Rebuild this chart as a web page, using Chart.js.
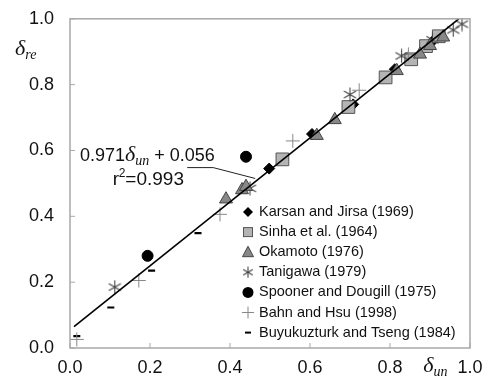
<!DOCTYPE html>
<html>
<head>
<meta charset="utf-8">
<script src="https://cdn.jsdelivr.net/npm/chart.js@4"></script>
<style>
  html, body { margin: 0; padding: 0; background: #fff; }
</style>
</head>
<body>
<canvas id="chart" width="491" height="382"></canvas>
<script>
// === DATOS ===
const axisTicks = [0.0, 0.2, 0.4, 0.6, 0.8, 1.0];

const karsanJirsa = [[0.498, 0.545], [0.605, 0.650], [0.708, 0.740], [0.812, 0.847], [0.905, 0.930]];
const sinha = [[0.531, 0.573], [0.696, 0.732], [0.789, 0.822], [0.853, 0.877], [0.890, 0.917], [0.922, 0.947]];
const okamoto = [[0.390, 0.452], [0.430, 0.480], [0.440, 0.490], [0.617, 0.645], [0.662, 0.693],
                 [0.817, 0.842], [0.875, 0.892], [0.900, 0.918], [0.933, 0.944]];
const tanigawa = [[0.112, 0.185], [0.450, 0.485], [0.700, 0.770], [0.829, 0.887], [0.906, 0.936],
                  [0.958, 0.966], [0.980, 0.984]];
const spoonerDougill = [[0.194, 0.280], [0.440, 0.581]];
const bahnHsu = [[0.017, 0.026], [0.172, 0.205], [0.375, 0.406], [0.557, 0.629], [0.723, 0.783], [0.846, 0.892]];
const buyukuzturk = [[0.017, 0.036], [0.102, 0.123], [0.204, 0.235], [0.320, 0.349]];

// recta de regresión (extremos)
const fitLine = [[0.010, 0.065], [0.972, 1.000]];

const labels = [
  'Karsan and Jirsa (1969)', 'Sinha et al. (1964)', 'Okamoto (1976)', 'Tanigawa (1979)',
  'Spooner and Dougill (1975)', 'Bahn and Hsu (1998)', 'Buyukuzturk and Tseng (1984)'
];

const toXY = arr => arr.map(p => ({ x: p[0], y: p[1] }));
const FONT = "'Liberation Sans', Arial, sans-serif";
const SERIF = "'Liberation Serif', 'Times New Roman', serif";

// asterisco de 6 brazos (Tanigawa)
function asterisk(size, color) {
  const c = document.createElement('canvas');
  c.width = size; c.height = size;
  const g = c.getContext('2d');
  const r = size / 2 - 0.5, m = size / 2;
  g.strokeStyle = color; g.lineWidth = 1.1;
  [90, 30, 150].forEach(a => {
    const t = a * Math.PI / 180;
    g.beginPath();
    g.moveTo(m - r * Math.cos(t), m - r * Math.sin(t));
    g.lineTo(m + r * Math.cos(t), m + r * Math.sin(t));
    g.stroke();
  });
  return c;
}
const starImg = asterisk(15, '#444');
const starSmall = asterisk(12, '#444');

// marcadores para la leyenda
function legendMarker(ctx, i, x, y) {
  ctx.save();
  ctx.lineWidth = 1;
  switch (i) {
    case 0:
      ctx.fillStyle = '#000';
      ctx.beginPath(); ctx.moveTo(x, y - 5); ctx.lineTo(x + 5, y); ctx.lineTo(x, y + 5); ctx.lineTo(x - 5, y); ctx.closePath(); ctx.fill();
      break;
    case 1:
      ctx.fillStyle = '#b4b4b4'; ctx.strokeStyle = '#555';
      ctx.fillRect(x - 4.5, y - 4.5, 9, 9); ctx.strokeRect(x - 4.5, y - 4.5, 9, 9);
      break;
    case 2:
      ctx.fillStyle = '#888'; ctx.strokeStyle = '#444';
      ctx.beginPath(); ctx.moveTo(x, y - 6); ctx.lineTo(x + 5.5, y + 4.5); ctx.lineTo(x - 5.5, y + 4.5); ctx.closePath(); ctx.fill(); ctx.stroke();
      break;
    case 3:
      ctx.drawImage(starSmall, x - 6, y - 6);
      break;
    case 4:
      ctx.fillStyle = '#000';
      ctx.beginPath(); ctx.arc(x, y, 5.5, 0, Math.PI * 2); ctx.fill();
      break;
    case 5:
      ctx.strokeStyle = '#888';
      ctx.beginPath(); ctx.moveTo(x - 6, y); ctx.lineTo(x + 6, y); ctx.moveTo(x, y - 6); ctx.lineTo(x, y + 6); ctx.stroke();
      break;
    case 6:
      ctx.strokeStyle = '#000'; ctx.lineWidth = 2;
      ctx.beginPath(); ctx.moveTo(x - 3, y); ctx.lineTo(x + 3, y); ctx.stroke();
      break;
  }
  ctx.restore();
}

// texto con δ cursiva y subíndice
function deltaText(ctx, x, y, sub, size) {
  ctx.save();
  ctx.textBaseline = 'alphabetic';
  ctx.textAlign = 'left';
  ctx.fillStyle = '#111';
  ctx.font = `italic ${size}px ${SERIF}`;
  ctx.fillText('δ', x, y);
  const w = ctx.measureText('δ').width;
  ctx.font = `italic ${Math.round(size * 0.62)}px ${SERIF}`;
  ctx.fillText(sub, x + w, y + size * 0.2);
  const w2 = ctx.measureText(sub).width;
  ctx.restore();
  return w + w2;
}

const decoPlugin = {
  id: 'deco',
  afterDraw(chart) {
    const { ctx, chartArea: a, scales: { x, y } } = chart;
    ctx.save();
    // marco
    ctx.strokeStyle = '#a8a8a8';
    ctx.lineWidth = 1.5;
    ctx.strokeRect(a.left, a.top, a.right - a.left, a.bottom - a.top);
    // marcas hacia dentro
    ctx.lineWidth = 1;
    axisTicks.forEach(v => {
      const px = x.getPixelForValue(v), py = y.getPixelForValue(v);
      ctx.beginPath(); ctx.moveTo(px, a.bottom); ctx.lineTo(px, a.bottom - 5); ctx.stroke();
      ctx.beginPath(); ctx.moveTo(a.left, py); ctx.lineTo(a.left + 5, py); ctx.stroke();
    });

    // títulos de ejes
    deltaText(ctx, 15, 55, 're', 22);
    deltaText(ctx, x.getPixelForValue(0.883), 372, 'un', 22);

    // ecuación y r²
    ctx.fillStyle = '#111';
    ctx.textBaseline = 'alphabetic';
    ctx.textAlign = 'left';
    ctx.font = `18px ${FONT}`;
    let ex = x.getPixelForValue(0.025), ey = y.getPixelForValue(0.568);
    ctx.fillText('0.971', ex, ey);
    ex += ctx.measureText('0.971').width;
    ex += deltaText(ctx, ex, ey, 'un', 22);
    ctx.font = `18px ${FONT}`;
    ctx.fillText(' + 0.056', ex, ey);

    ctx.font = `19px ${FONT}`;
    const rx = x.getPixelForValue(0.107), ry = y.getPixelForValue(0.494);
    ctx.fillText('r', rx, ry);
    const rw = ctx.measureText('r').width;
    ctx.font = `12px ${FONT}`;
    ctx.fillText('2', rx + rw - 0.5, ry - 8);
    const tw = ctx.measureText('2').width;
    ctx.font = `19px ${FONT}`;
    ctx.fillText('=0.993', rx + rw + tw - 0.5, ry);

    // línea guía
    ctx.strokeStyle = '#222';
    ctx.lineWidth = 1;
    ctx.beginPath();
    ctx.moveTo(x.getPixelForValue(0.293), y.getPixelForValue(0.548));
    ctx.lineTo(x.getPixelForValue(0.358), y.getPixelForValue(0.548));
    ctx.lineTo(x.getPixelForValue(0.463), y.getPixelForValue(0.515));
    ctx.stroke();

    // leyenda
    ctx.font = `14.5px ${FONT}`;
    ctx.textBaseline = 'middle';
    labels.forEach((t, i) => {
      const ly = 212 + i * 20.1;
      legendMarker(ctx, i, 248, ly);
      ctx.fillStyle = '#111';
      ctx.fillText(t, 259, ly);
    });
    ctx.restore();
  }
};

const ctx = document.getElementById('chart').getContext('2d');
new Chart(ctx, {
  type: 'scatter',
  data: {
    datasets: [
      { label: 'fit', data: toXY(fitLine), showLine: true, borderColor: '#000', borderWidth: 1.6,
        pointRadius: 0, order: 0 },
      { label: labels[0], data: toXY(karsanJirsa), pointStyle: 'rectRot', pointRadius: 5.5,
        backgroundColor: '#000', borderColor: '#000', borderWidth: 1, order: 3 },
      { label: labels[1], data: toXY(sinha), pointStyle: 'rect', pointRadius: 9,
        backgroundColor: '#b4b4b4', borderColor: '#555', borderWidth: 1, order: 2 },
      { label: labels[2], data: toXY(okamoto), pointStyle: 'triangle', pointRadius: 7.5,
        backgroundColor: '#888', borderColor: '#444', borderWidth: 1, order: 1 },
      { label: labels[3], data: toXY(tanigawa), pointStyle: starImg, order: 1 },
      { label: labels[4], data: toXY(spoonerDougill), pointStyle: 'circle', pointRadius: 5.5,
        backgroundColor: '#000', borderColor: '#000', borderWidth: 1, order: 1 },
      { label: labels[5], data: toXY(bahnHsu), pointStyle: 'cross', pointRadius: 7,
        borderColor: '#888', borderWidth: 1, order: 1 },
      { label: labels[6], data: toXY(buyukuzturk), pointStyle: 'line', pointRadius: 3.5,
        borderColor: '#000', borderWidth: 2.2, order: 1 }
    ]
  },
  options: {
    responsive: false,
    animation: false,
    devicePixelRatio: 1,
    layout: { padding: { top: 12, right: 21, left: 0, bottom: 0 } },
    plugins: { legend: { display: false }, tooltip: { enabled: false } },
    scales: {
      x: {
        type: 'linear', min: 0, max: 1,
        afterFit: s => { s.height = 34; },
        afterBuildTicks: s => { s.ticks = axisTicks.map(v => ({ value: v })); },
        grid: { display: false }, border: { display: false },
        ticks: { padding: 1, color: '#111', font: { family: FONT, size: 18 },
                 callback: v => v.toFixed(1) }
      },
      y: {
        type: 'linear', min: 0, max: 1,
        afterFit: s => { s.width = 70; },
        afterBuildTicks: s => { s.ticks = axisTicks.map(v => ({ value: v })); },
        grid: { display: false }, border: { display: false },
        ticks: { padding: 8, color: '#111', font: { family: FONT, size: 18 },
                 callback: v => v.toFixed(1) }
      }
    }
  },
  plugins: [decoPlugin]
});
</script>
</body>
</html>
